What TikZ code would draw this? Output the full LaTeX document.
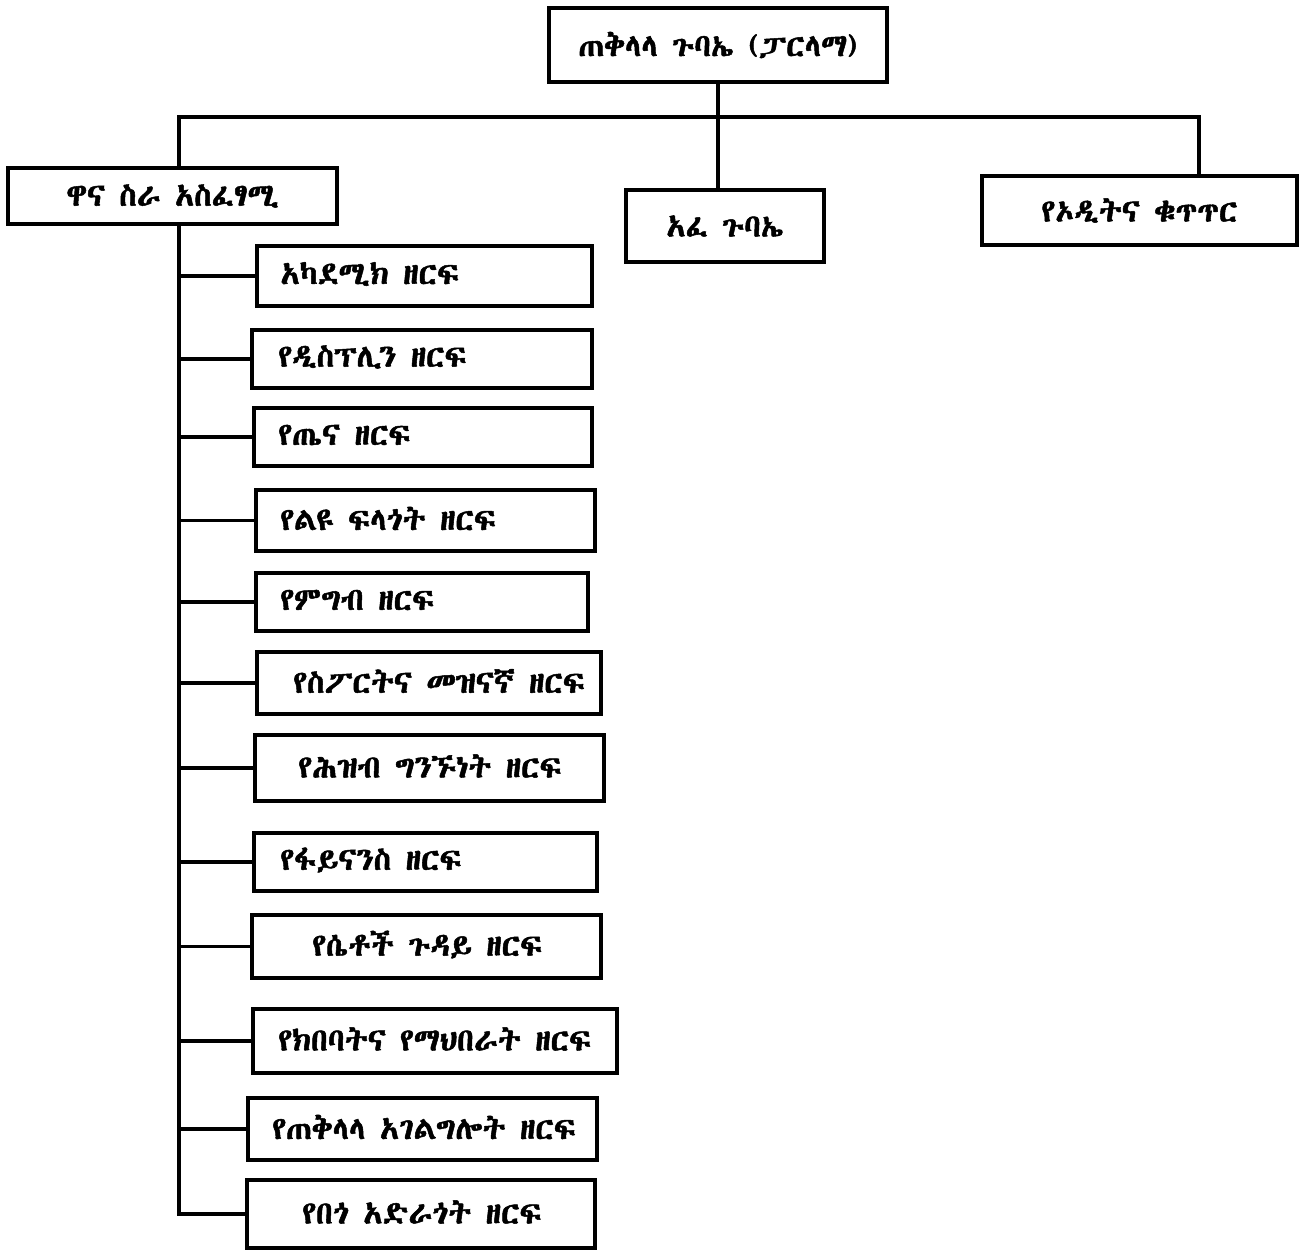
\documentclass[tikz,border=0pt]{standalone}
\usepackage{fontspec}
\IfFontExistsTF{Abyssinica SIL}{\newfontfamily\ethfont[FakeBold=1.6]{Abyssinica SIL}}{%
 \IfFontExistsTF{FreeSerif}{\newfontfamily\ethfont[FakeBold=1.6]{FreeSerif}}{%
  \IfFontExistsTF{Noto Sans Ethiopic}{\newfontfamily\ethfont[FakeBold=1.6]{Noto Sans Ethiopic}}{%
   \newfontfamily\ethfont[FakeBold=1.6]{DejaVu Sans}}}}
\tikzset{
  boxst/.style={draw=black, line width=2.3pt, fill=white, inner sep=0pt},
  txt/.style={inner sep=0pt, font=\ethfont\fontsize{18}{20}\selectfont},
  conn/.style={draw=black, line width=1.9pt},
}
\newcommand\mkbox[7]{%
  \node[boxst, minimum width={(#4-#2)*0.02cm}, minimum height={(#5-#3)*0.02cm}] (#1) at ({(#2+#4)/2},{(#3+#5)/2}) {};
  \node[txt, anchor=west] (#1t) at (#6,{(#3+#5)/2-2}) {#7};}
\newcommand\mkcbox[7]{%
  \node[boxst, txt, minimum width={(#4-#2)*0.02cm}, minimum height={(#5-#3)*0.02cm}] (#1) at ({(#2+#4)/2},{(#3+#5)/2}) {#7};}
\begin{document}
\begin{tikzpicture}[x=0.02cm, y=-0.02cm]
\useasboundingbox[fill=white] (0,0) rectangle (1302,1251);
% coordinates for bus and spine
\coordinate (busy) at (0,117);
\coordinate (sp) at (179,0);
\coordinate (rx) at (1199,0);
% top level boxes
\mkcbox{top}{549}{8}{887}{82}{}{ጠቅላላ ጉባኤ (ፓርላማ)}
\mkcbox{lb}{8}{168}{337}{224}{}{ዋና ስራ አስፈፃሚ}
\mkcbox{mb}{626}{190}{824}{262}{}{አፈ ጉባኤ}
\mkcbox{rb}{982}{176}{1297}{245}{}{የኦዲትና ቁጥጥር}
% sub boxes
\mkbox{b1}{257}{246}{592}{306}{280}{አካደሚክ ዘርፍ}
\mkbox{b2}{252}{330}{592}{388}{278}{የዲስፕሊን ዘርፍ}
\mkbox{b3}{254}{408}{592}{466}{278}{የጤና ዘርፍ}
\mkbox{b4}{256}{490}{595}{551}{280}{የልዩ ፍላጎት ዘርፍ}
\mkbox{b5}{256}{573}{588}{631}{280}{የምግብ ዘርፍ}
\mkbox{b6}{257}{652}{601}{714}{293}{የስፖርትና መዝናኛ ዘርፍ}
\mkbox{b7}{255}{735}{604}{801}{298}{የሕዝብ ግንኙነት ዘርፍ}
\mkbox{b8}{254}{833}{597}{891}{280}{የፋይናንስ ዘርፍ}
\mkbox{b9}{252}{915}{601}{978}{312}{የሴቶች ጉዳይ ዘርፍ}
\mkbox{b10}{253}{1009}{617}{1073}{278}{የክበባትና የማህበራት ዘርፍ}
\mkbox{b11}{248}{1098}{597}{1160}{272}{የጠቅላላ አገልግሎት ዘርፍ}
\mkbox{b12}{247}{1180}{595}{1248}{302}{የበጎ አድራጎት ዘርፍ}
% connectors
\draw[conn] (top.south) -- (top.south |- mb.north);
\draw[conn] (sp |- lb.north) -- (sp |- busy) -- (rx |- busy) -- (rx |- rb.north);
\draw[conn] (sp |- lb.south) -- (sp |- b12.west) -- (b12.west);
\foreach \b in {b1,b2,b3,b4,b5,b6,b7,b8,b9,b10,b11}{
  \draw[conn] (sp |- \b.west) -- (\b.west);
}
\end{tikzpicture}
\end{document}
